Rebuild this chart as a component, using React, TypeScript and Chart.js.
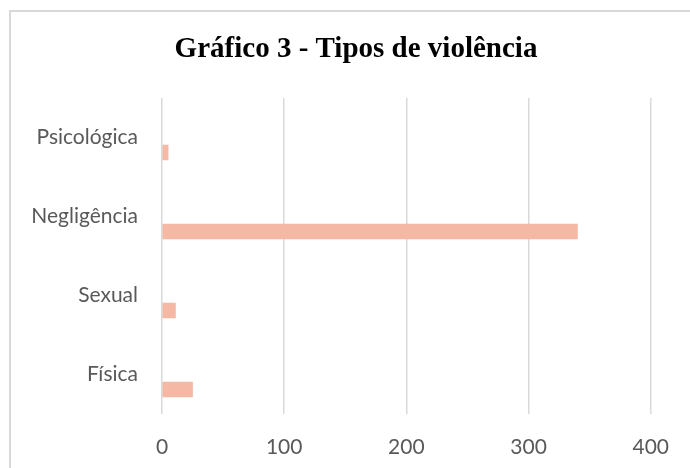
import React, { useEffect, useRef } from "react";
import { Chart, registerables } from "chart.js";

Chart.register(...registerables);

const categories: string[] = ["Psicológica", "Negligência", "Sexual", "Física"];
const emptySeriesA: (number | null)[] = [null, null, null, null];
const emptySeriesB: (number | null)[] = [null, null, null, null];
const casos: number[] = [5, 340, 11, 25];
const xTicks: number[] = [0, 100, 200, 300, 400];
const titleText = "Gráfico 3 - Tipos de violência";

const titlePlugin = {
  id: "offsetTitle",
  afterDraw(chart: any) {
    const ctx = chart.ctx;
    ctx.save();
    ctx.font = "bold 29px 'Liberation Serif'";
    ctx.fillStyle = "#000000";
    ctx.textAlign = "center";
    ctx.textBaseline = "middle";
    ctx.fillText(titleText, 356, 50);
    ctx.restore();
  },
};

export default function App() {
  const canvasRef = useRef<HTMLCanvasElement | null>(null);

  useEffect(() => {
    const canvas = canvasRef.current;
    if (!canvas) return;
    const labelFont = { family: "Lato", size: 21 };
    const chart = new Chart(canvas, {
      type: "bar",
      data: {
        labels: categories,
        datasets: [
          { label: "A", data: emptySeriesA, backgroundColor: "#F4B8A4" },
          { label: "B", data: emptySeriesB, backgroundColor: "#F4B8A4" },
          { label: "Casos", data: casos, backgroundColor: "#F4B8A4", borderWidth: 0 },
        ],
      },
      options: {
        indexAxis: "y",
        responsive: false,
        animation: false,
        devicePixelRatio: 1,
        datasets: { bar: { barThickness: 15 } },
        layout: { padding: { left: 0, right: 38, top: 98, bottom: 0 } },
        plugins: {
          legend: { display: false },
          tooltip: { enabled: false },
          title: { display: false },
        },
        scales: {
          x: {
            type: "linear",
            min: 0,
            max: 400,
            afterBuildTicks: (scale: any) => {
              scale.ticks = xTicks.map((v) => ({ value: v }));
            },
            afterFit: (scale: any) => {
              scale.height = 54;
            },
            grid: { color: "#D9D9D9", lineWidth: 1.5, drawTicks: false },
            border: { display: false },
            ticks: { color: "#595959", font: labelFont, padding: 21 },
          },
          y: {
            type: "category",
            afterFit: (scale: any) => {
              scale.width = 162;
            },
            grid: { display: false, drawTicks: false },
            border: { display: false },
            ticks: { color: "#595959", font: labelFont, padding: 24 },
          },
        },
      },
      plugins: [titlePlugin],
    });
    return () => chart.destroy();
  }, []);

  return (
    <div style={{ position: "absolute", left: 0, top: 0, width: 690, height: 468, background: "#fff", overflow: "hidden" }}>
      <canvas ref={canvasRef} width={690} height={468} style={{ display: "block" }} />
      <div
        style={{
          position: "absolute",
          left: 9,
          top: 10,
          width: 720,
          height: 500,
          borderLeft: "2px solid #D9D9D9",
          borderTop: "2px solid #D9D9D9",
          pointerEvents: "none",
        }}
      />
    </div>
  );
}
